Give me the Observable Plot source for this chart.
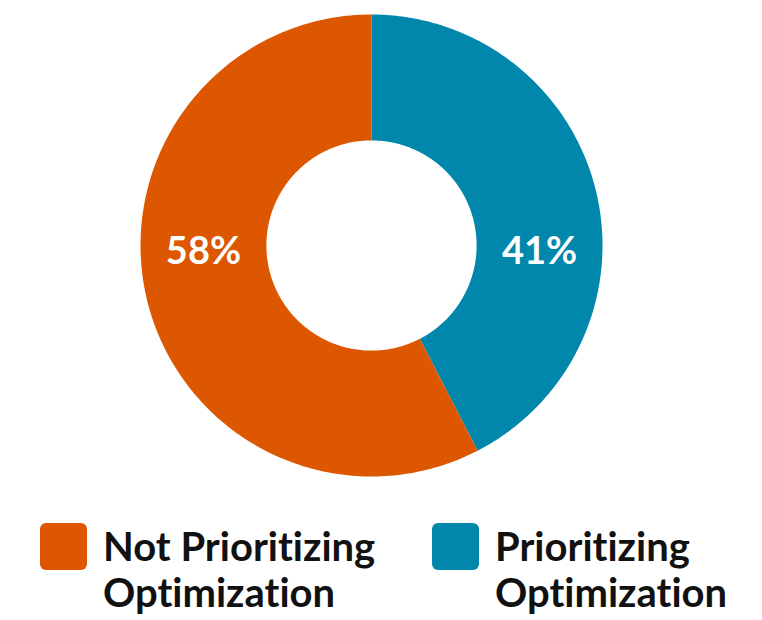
<!DOCTYPE html>
<html>
<head>
<meta charset="utf-8">
<script src="https://cdn.jsdelivr.net/npm/d3@7"></script>
<script src="https://cdn.jsdelivr.net/npm/@observablehq/plot@0.6"></script>
<style>
  html, body { margin: 0; padding: 0; background: #fff; }
  #wrap { position: relative; width: 762px; height: 620px; font-family: Lato, "Open Sans", sans-serif; font-variant-ligatures: none; }
  #chart { position: absolute; left: 0; top: 0; }
  .item { position: absolute; top: 523px; display: flex; align-items: flex-start; }
  .sw { width: 47px; height: 47px; border-radius: 6px; flex: none; }
  .lbl { margin-left: 16px; font-weight: 700; font-size: 40px; line-height: 46px; color: #111; margin-top: 0px; white-space: nowrap; }
</style>
</head>
<body>
<div id="wrap">
  <div id="chart"></div>
  <div id="legend"></div>
</div>
<script>
const categories = ["Not Prioritizing Optimization", "Prioritizing Optimization"];
const legendLines = [["Not Prioritizing", "Optimization"], ["Prioritizing", "Optimization"]];
const values = [57.6, 42.4];
const valueLabels = ["58%", "41%"];
const colors = ["#DD5600", "#0087AB"];

const innerRatio = 0.455;

// pie order: clockwise from 12 o'clock, Prioritizing first
const pieData = categories.map((c, i) => ({key: c, value: values[i], label: valueLabels[i]})).reverse();
const arcs = d3.pie().sort(null).value(d => d.value)(pieData);

const pts = [];
for (const a of arcs) {
  const n = 200;
  for (let k = 0; k <= n; k++) {
    const t = a.startAngle + (a.endAngle - a.startAngle) * k / n;
    pts.push({key: a.data.key, x: Math.sin(t), y: Math.cos(t)});
  }
  for (let k = n; k >= 0; k--) {
    const t = a.startAngle + (a.endAngle - a.startAngle) * k / n;
    pts.push({key: a.data.key, x: innerRatio * Math.sin(t), y: innerRatio * Math.cos(t)});
  }
}

const rMid = (1 + innerRatio) / 2;
const labels = arcs.map(a => {
  const mid = (a.startAngle + a.endAngle) / 2;
  return {label: a.data.label, x: Math.sign(Math.sin(mid)) * rMid, y: 0};
});

const plot = Plot.plot({
  width: 762,
  height: 500,
  margin: 0,
  x: {domain: [-1, 1], range: [140, 602], axis: null},
  y: {domain: [-1, 1], range: [476, 14], axis: null},
  color: {domain: categories, range: colors},
  marks: [
    Plot.line(pts, {x: "x", y: "y", z: "key", fill: "key", stroke: "none", curve: "linear-closed"}),
    Plot.text(labels, {x: "x", y: "y", text: "label", fill: "white", fontSize: 38, fontWeight: 700, dy: 6, fontFamily: "Lato, 'Open Sans', sans-serif"})
  ]
});
document.getElementById("chart").appendChild(plot);

const lefts = [40, 432];
const legend = document.getElementById("legend");
categories.forEach((c, i) => {
  const item = document.createElement("div");
  item.className = "item";
  item.style.left = lefts[i] + "px";
  const sw = document.createElement("div");
  sw.className = "sw";
  sw.style.background = colors[i];
  const lbl = document.createElement("div");
  lbl.className = "lbl";
  lbl.innerHTML = legendLines[i].join("<br>");
  item.appendChild(sw);
  item.appendChild(lbl);
  legend.appendChild(item);
});
</script>
</body>
</html>
